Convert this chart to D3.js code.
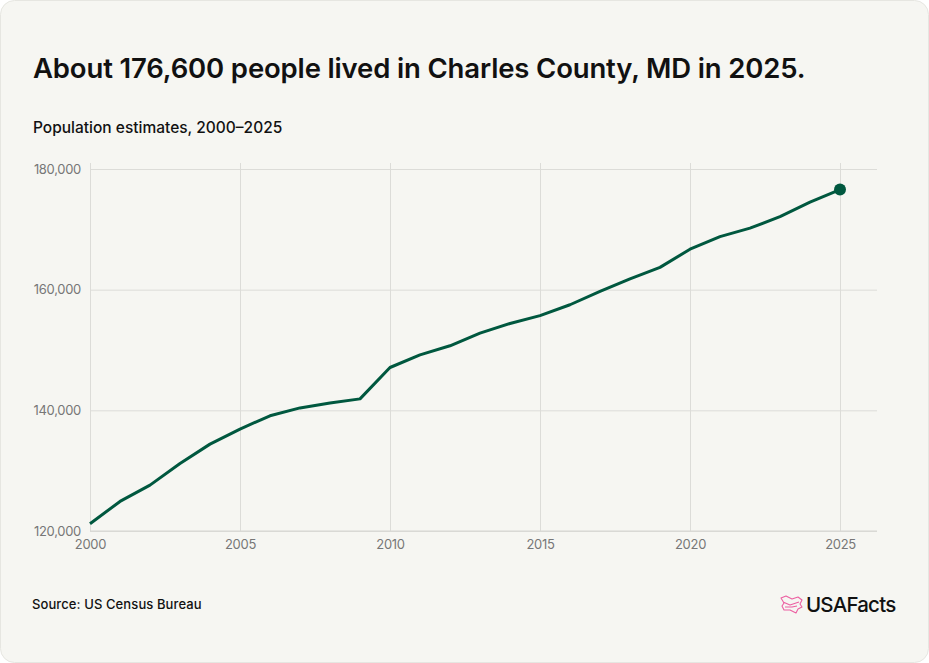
<!DOCTYPE html>
<html>
<head>
<meta charset="utf-8">
<script src="https://cdn.jsdelivr.net/npm/d3@7"></script>
<style>
  html, body { margin: 0; padding: 0; background: #ffffff; }
  svg { display: block; }
  text { font-family: Inter, "Noto Sans", sans-serif; }
</style>
</head>
<body>
<div id="chart"></div>
<script>
// population estimates
const years = d3.range(2000, 2026)
const population = [
    121200, 124900, 127600, 131200, 134400, 136900, 139100, 140400, 141200, 141900,
    147100, 149200, 150700, 152800, 154400, 155700, 157500, 159700, 161800, 163700,
    166700, 168800, 170200, 172100, 174500, 176600
]
const yTicks = [120000, 140000, 160000, 180000]
const xTicks = [2000, 2005, 2010, 2015, 2020, 2025]

const title = 'About 176,600 people lived in Charles County, MD in 2025.'
const subtitle = 'Population estimates, 2000–2025'
const source = 'Source: US Census Bureau'

const width = 929, height = 663
const margin = {top: 169, right: 52, bottom: 132, left: 90}

const svg = d3.select('#chart').append('svg')
    .attr('width', width)
    .attr('height', height)

svg.append('rect')
    .attr('x', 0.5).attr('y', 0.5)
    .attr('width', width - 1).attr('height', height - 1)
    .attr('rx', 14)
    .attr('fill', '#f6f6f2')
    .attr('stroke', '#e6e6e1')

svg.append('text')
    .attr('x', 33).attr('y', 78)
    .attr('font-size', 27.5)
    .attr('font-weight', 600)
    .attr('letter-spacing', -0.15)
    .attr('fill', '#111')
    .text(title)

svg.append('text')
    .attr('x', 33).attr('y', 133)
    .attr('font-size', 15.5)
    .attr('font-weight', 500)
    .attr('letter-spacing', 0)
    .attr('fill', '#111')
    .text(subtitle)

const x = d3.scaleLinear()
    .domain([2000, 2025])
    .range([margin.left, 840])

const y = d3.scaleLinear()
    .domain([120000, 180000])
    .range([531, margin.top])

const plotRight = 877

// horizontal gridlines
const yAxis = svg.append('g')
    .attr('transform', `translate(${margin.left},0)`)
    .call(d3.axisLeft(y).tickValues(yTicks).tickFormat(d3.format(',')).tickSize(-(plotRight - margin.left)).tickPadding(9))
yAxis.select('.domain').remove()
yAxis.selectAll('line').attr('stroke', '#dcdcd8')
yAxis.selectAll('text')
    .attr('fill', '#777')
    .attr('font-size', 13)
    .attr('letter-spacing', -0.3)
    .style('font-family', 'Inter, sans-serif')

// vertical gridlines
const xAxis = svg.append('g')
    .attr('transform', `translate(0,${y(120000)})`)
    .call(d3.axisBottom(x).tickValues(xTicks).tickFormat(d3.format('d')).tickSize(-(y(120000) - 163)).tickPadding(9))
xAxis.select('.domain').remove()
xAxis.selectAll('line').attr('stroke', '#dcdcd8')
xAxis.selectAll('text')
    .attr('fill', '#777')
    .attr('font-size', 13)
    .attr('letter-spacing', -0.3)
    .style('font-family', 'Inter, sans-serif')

// baseline
svg.append('line')
    .attr('x1', margin.left).attr('x2', plotRight)
    .attr('y1', y(120000)).attr('y2', y(120000))
    .attr('stroke', '#d6d6d2')

const data = years.map((yr, i) => ({year: yr, value: population[i]}))

const line = d3.line()
    .x(d => x(d.year))
    .y(d => y(d.value))

svg.append('path')
    .datum(data)
    .attr('d', line)
    .attr('fill', 'none')
    .attr('stroke', '#00583f')
    .attr('stroke-width', 3)
    .attr('stroke-linejoin', 'round')

const last = data[data.length - 1]
svg.append('circle')
    .attr('cx', x(last.year))
    .attr('cy', y(last.value))
    .attr('r', 6)
    .attr('fill', '#00583f')

svg.append('text')
    .attr('x', 32).attr('y', 609)
    .attr('font-size', 13)
    .attr('font-weight', 500)
    .attr('letter-spacing', 0.1)
    .attr('fill', '#111')
    .text(source)

// logo
const logo = svg.append('g').attr('transform', 'translate(780,596)')
logo.append('path')
    .attr('d', 'M1,2 L6,0 L12,3 L18,1 L22,4 L20,8 L22,11 L18,13 L16,17 L10,14 L4,14 L2,10 L4,7 Z M3,6 L10,9 L19,6 M5,11 L12,11 L17,10')
    .attr('fill', 'none')
    .attr('stroke', '#ec5fa1')
    .attr('stroke-width', 1.1)
    .attr('stroke-linejoin', 'round')
logo.append('text')
    .attr('x', 26).attr('y', 16)
    .attr('font-size', 20.5)
    .attr('font-weight', 500)
    .attr('letter-spacing', -0.8)
    .attr('fill', '#111')
    .text('USAFacts')
</script>
</body>
</html>
